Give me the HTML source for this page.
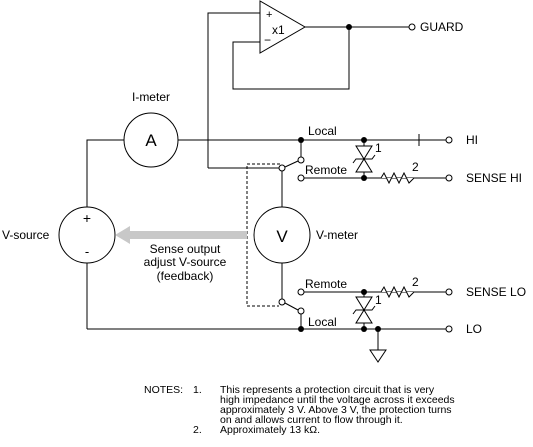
<!DOCTYPE html>
<html><head><meta charset="utf-8"><style>
html,body{margin:0;padding:0;background:#fff;}
svg{display:block;font-family:"Liberation Sans",Arial,sans-serif;}
</style></head><body>
<svg width="533" height="447" viewBox="0 0 533 447" xmlns="http://www.w3.org/2000/svg">
<g stroke="#000" stroke-width="1" fill="none">
<!-- op amp -->
<polygon points="260,1 260,53 305,27" fill="#fff"/>
<polyline points="208,168 208,13 260,13"/>
<polyline points="260,42 233,42 233,89 349,89 349,27"/>
<line x1="305" y1="27" x2="409" y2="27"/>
<!-- I-meter line -->
<polyline points="87,207 87,140 124,140"/>
<circle cx="151" cy="140" r="27"/>
<line x1="178" y1="140" x2="446" y2="140"/>
<line x1="419" y1="134" x2="419" y2="146"/>
<!-- V-source -->
<circle cx="87" cy="235" r="28"/>
<line x1="87" y1="263" x2="87" y2="329"/>
<line x1="87" y1="329" x2="446" y2="329"/>
<!-- HI switch -->
<line x1="208" y1="168" x2="279" y2="168"/>
<line x1="301" y1="140" x2="301" y2="157"/>
<line x1="285" y1="167" x2="298" y2="161"/>
<line x1="304" y1="178" x2="446" y2="178"/>
<line x1="282" y1="171" x2="282" y2="207"/>
<circle cx="282" cy="235" r="28"/>
<line x1="282" y1="263" x2="282" y2="299"/>
<!-- LO switch -->
<line x1="285" y1="303" x2="298" y2="310"/>
<line x1="301" y1="314" x2="301" y2="329"/>
<line x1="304" y1="292" x2="446" y2="292" />
<!-- dashed box -->
<polyline points="280,164 247,164 247,306 279,306" stroke-dasharray="3,2"/>
<!-- zeners -->
<line x1="364" y1="140" x2="364" y2="178"/>
<polygon points="356,146 372,146 364,159" fill="#fff"/>
<polygon points="356,172 372,172 364,159" fill="#fff"/>
<polyline points="353,163 356,159 372,159 375,155"/>
<line x1="364" y1="292" x2="364" y2="329"/>
<polygon points="356,297 372,297 364,310" fill="#fff"/>
<polygon points="356,323 372,323 364,310" fill="#fff"/>
<polyline points="353,314 356,310 372,310 375,306"/>
<!-- resistors -->
<polyline points="381,178 384,173 389,183 394,173 399,183 404,173 409,183 414,178" fill="#fff"/>
<polyline points="381,292 384,287 389,297 394,287 399,297 404,287 409,297 414,292" fill="#fff"/>
<!-- ground -->
<line x1="378" y1="329" x2="378" y2="350"/>
<polygon points="370,350 386,350 378,362"/>
<!-- open circles -->
<g fill="#fff">
<circle cx="412" cy="27" r="3"/>
<circle cx="449" cy="140" r="3"/>
<circle cx="449" cy="178" r="3"/>
<circle cx="449" cy="292" r="3"/>
<circle cx="449" cy="329" r="3"/>
<circle cx="282" cy="168" r="3"/>
<circle cx="301" cy="160" r="3"/>
<circle cx="301" cy="178" r="3"/>
<circle cx="282" cy="302" r="3"/>
<circle cx="301" cy="311" r="3"/>
<circle cx="301" cy="292" r="3"/>
</g>
</g>
<g fill="#000">
<circle cx="349" cy="27" r="3"/>
<circle cx="301" cy="140" r="3"/>
<circle cx="364" cy="140" r="3"/>
<circle cx="364" cy="178" r="3"/>
<circle cx="364" cy="292" r="3"/>
<circle cx="301" cy="329" r="3"/>
<circle cx="364" cy="329" r="3"/>
<circle cx="378" cy="329" r="3"/>
</g>
<!-- gray arrow -->
<rect x="128" y="231" width="119" height="8" fill="#c8c8c8"/>
<polygon points="115,235 130,226 130,244" fill="#c8c8c8"/>
<g font-size="12" fill="#000">
<text x="266" y="18" font-size="11">+</text>
<text x="264" y="44" font-size="12">−</text>
<text x="272" y="34" font-size="12">x1</text>
<text x="420" y="31">GUARD</text>
<text x="151" y="101" text-anchor="middle">I-meter</text>
<text x="151" y="146" text-anchor="middle" font-size="17">A</text>
<text x="282" y="242" text-anchor="middle" font-size="17">V</text>
<text x="87" y="223" text-anchor="middle" font-size="14">+</text>
<text x="87" y="256" text-anchor="middle" font-size="13">-</text>
<text x="2" y="239">V-source</text>
<text x="316" y="239">V-meter</text>
<text x="185" y="253" text-anchor="middle">Sense output</text>
<text x="185" y="266" text-anchor="middle">adjust V-source</text>
<text x="185" y="280" text-anchor="middle">(feedback)</text>
<text x="308" y="135">Local</text>
<text x="305" y="174">Remote</text>
<text x="305" y="288">Remote</text>
<text x="308" y="326">Local</text>
<text x="375" y="152">1</text>
<text x="412" y="171">2</text>
<text x="375" y="304">1</text>
<text x="412" y="286">2</text>
<text x="466" y="144">HI</text>
<text x="466" y="182">SENSE HI</text>
<text x="466" y="296">SENSE LO</text>
<text x="466" y="333">LO</text>
</g>
<g font-size="10.5" fill="#000">
<text x="144" y="393">NOTES:</text>
<text x="193" y="393">1.</text>
<text x="220" y="393">This represents a protection circuit that is very</text>
<text x="220" y="403">high impedance until the voltage across it exceeds</text>
<text x="220" y="413">approximately 3 V. Above 3 V, the protection turns</text>
<text x="220" y="423">on and allows current to flow through it.</text>
<text x="193" y="433">2.</text>
<text x="220" y="433">Approximately 13 kΩ.</text>
</g>
</svg>
</body></html>
